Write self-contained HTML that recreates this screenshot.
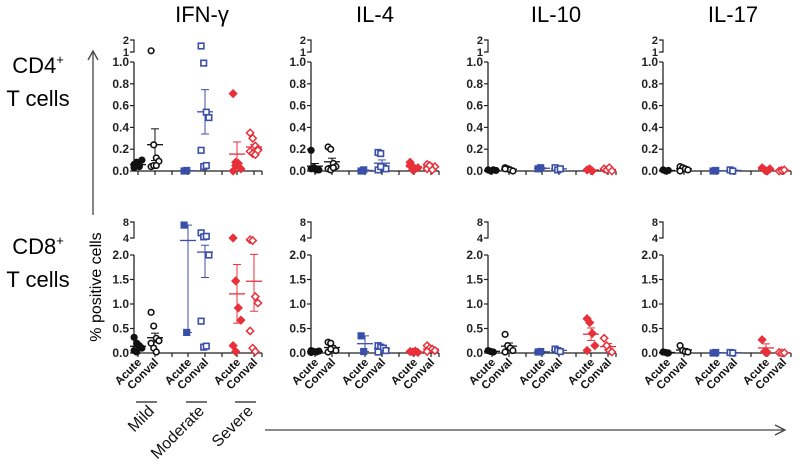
<!DOCTYPE html>
<html><head><meta charset="utf-8"><style>
html,body{margin:0;padding:0;background:#fff}
svg{display:block;font-family:"Liberation Sans",sans-serif}
</style></head><body>
<svg id="chart" width="800" height="465" viewBox="0 0 800 465" xmlns="http://www.w3.org/2000/svg">
<g id="static">
<text x="202" y="22" font-size="22" text-anchor="middle">IFN-γ</text>
<text x="375" y="22" font-size="22" text-anchor="middle">IL-4</text>
<text x="556" y="22" font-size="22" text-anchor="middle">IL-10</text>
<text x="733" y="22" font-size="22" text-anchor="middle">IL-17</text>
<text x="38" y="73" font-size="22" text-anchor="middle">CD4<tspan dy="-9" font-size="13">+</tspan></text>
<text x="38" y="106" font-size="22" text-anchor="middle">T cells</text>
<text x="38" y="254" font-size="22" text-anchor="middle">CD8<tspan dy="-9" font-size="13">+</tspan></text>
<text x="38" y="287" font-size="22" text-anchor="middle">T cells</text>
<g>
<line x1="93" y1="52" x2="93" y2="215" stroke="#444" stroke-width="1.3"/>
<polyline points="88,60 93,51 98,60" fill="none" stroke="#444" stroke-width="1.3"/>
</g>
<text transform="translate(101,287) rotate(-90)" font-size="16" text-anchor="middle">% positive cells</text>
<g>
<line x1="265" y1="430" x2="784" y2="430" stroke="#444" stroke-width="1.3"/>
<polyline points="775,425 785,430 775,435" fill="none" stroke="#444" stroke-width="1.3"/>
</g>
</g>
<g id="panels"></g>
</svg>
<script>
var cytokines = ["IFN-γ","IL-4","IL-10","IL-17"];
var groups = ["Mild Acute","Mild Conval","Moderate Acute","Moderate Conval","Severe Acute","Severe Conval"];
var severities = ["Mild","Moderate","Severe"];
var topTicks = [0,0.2,0.4,0.6,0.8,1.0];
var topTickLabels = ["0.0","0.2","0.4","0.6","0.8","1.0"];
var topBreakTicks = [1,2];
var botTicks = [0,0.5,1.0,1.5,2.0];
var botTickLabels = ["0.0","0.5","1.0","1.5","2.0"];
var botBreakTicks = [4,8];

var cd4IFN = [[0.03,0.05,0.04,0.1,0.06,0.08,0.05],[1.1,0.24,0.12,0.09,0.04,0.05,0.05],[0.0,0.005],[1.5,0.99,0.54,0.49,0.19,0.04,0.05],[0.71,0.08,0.07,0.02,0.0,0.05],[0.35,0.30,0.23,0.2,0.18,0.16,0.15,0.19]];
var cd4IL4 = [[0.19,0.03,0.02,0.01,0.02,0.03,0.01],[0.22,0.2,0.07,0.04,0.02,0.01,0.03],[0.0,0.01],[0.17,0.16,0.03,0.02,0.01,0.04],[0.08,0.04,0.02,0.03,0.05,0.01],[0.06,0.05,0.03,0.04,0.02,0.05,0.01]];
var cd4IL10 = [[0.01,0.0,0.01,0.005],[0.03,0.02,0.01,0.0,0.02],[0.02,0.03],[0.03,0.01,0.02],[0.01,0.02,0.0],[0.02,0.01,0.03,0.0]];
var cd4IL17 = [[0.01,0.0,0.005],[0.04,0.03,0.02,0.01,0.0],[0.0,0.005],[0.01,0.0],[0.03,0.01,0.0,0.02],[0.0,0.005,0.01]];
var cd8IFN = [[0.32,0.2,0.15,0.1,0.05,0.02,0.12],[0.83,0.55,0.3,0.25,0.2,0.1,0.02,0.25],[7,0.42],[5,4.2,4.3,2.0,0.65,0.12,0.14],[4.0,1.47,0.92,0.67,0.15,0.03],[3.8,3.7,1.15,1.02,0.45,0.1,0.03]];
var cd8IL4 = [[0.05,0.03,0.02,0.04,0.01],[0.22,0.2,0.1,0.05,0.02,0.08],[0.35,0.03],[0.15,0.12,0.1,0.05,0.02],[0.03,0.02,0.04,0.01],[0.15,0.1,0.08,0.05,0.03]];
var cd8IL10 = [[0.05,0.03,0.02],[0.38,0.15,0.1,0.05,0.02],[0.02,0.03],[0.08,0.05,0.03],[0.7,0.62,0.4,0.15,0.05],[0.3,0.15,0.05,0.02]];
var cd8IL17 = [[0.02,0.01,0.0],[0.15,0.05,0.03,0.02],[0.0,0.01],[0.01,0.0],[0.27,0.03,0.01],[0.01,0.0,0.005]];

var cd4Data = [cd4IFN,cd4IL4,cd4IL10,cd4IL17];
var cd8Data = [cd8IFN,cd8IL4,cd8IL10,cd8IL17];

var NS="http://www.w3.org/2000/svg";
var root=document.getElementById('panels');
var axisX=[134,311,488,663];
var groupOff=[4,21,54,71,103,120];
var divOff=[38,88];
var panelW=128;
var colors=["#111","#111","#3a4fa8","#3a4fa8","#e8303a","#e8303a"];
function mk(tag,attrs,parent){var e=document.createElementNS(NS,tag);for(var k in attrs)e.setAttribute(k,attrs[k]);(parent||root).appendChild(e);return e;}
function yTop(v){ if(v<=1) return 171-v*109; if(v<1.02) return 62; return 52-Math.min(v-1,1.2)*12; }
function yTopBreak(v){ return 52-(v-1)*12; }
function yBot2(v){ if(v<=2) return 353-v*49; if(v<4) return 255-(v-2)/2*17; return 238-(Math.log(v/4)/Math.log(2))*16; }
function yBotBreak(v){ return 238-(Math.log(v/4)/Math.log(2))*16; }
function meanSem(a){var m=0;a.forEach(function(v){m+=v});m/=a.length;var s=0;a.forEach(function(v){s+=(v-m)*(v-m)});var sd=a.length>1?Math.sqrt(s/(a.length-1)):0;return [m,sd/Math.sqrt(a.length)];}
function marker(g,x,y,gi){
  var c=colors[gi],filled=gi%2===0,sev=Math.floor(gi/2),e;
  var fill=filled?c:"#fff";
  if(sev===0) e=mk('circle',{cx:x,cy:y,r:2.8,fill:fill,stroke:c,'stroke-width':1.6},g);
  else if(sev===1) e=mk('rect',{x:x-2.8,y:y-2.8,width:5.6,height:5.6,fill:fill,stroke:c,'stroke-width':1.6},g);
  else e=mk('polygon',{points:(x)+','+(y-3.6)+' '+(x+3.6)+','+y+' '+(x)+','+(y+3.6)+' '+(x-3.6)+','+y,fill:fill,stroke:c,'stroke-width':1.5},g);
  
  
}
function drawPanel(ci,row){
  var ax=axisX[ci];
  var top=row===0;
  var yf=top?yTop:yBot2;
  var yb=top?yTopBreak:yBotBreak;
  var y0=yf(0), yMax=top?yf(1):yf(2);
  var data=top?cd4Data[ci]:cd8Data[ci];
  var g=mk('g',{});
  
  
  mk('line',{x1:ax,y1:y0,x2:ax,y2:yMax,stroke:'#222','stroke-width':1.3},g);
  mk('line',{x1:ax,y1:y0,x2:ax+panelW,y2:y0,stroke:'#222','stroke-width':1.3},g);
  var ticks=top?topTicks:botTicks, labs=top?topTickLabels:botTickLabels;
  ticks.forEach(function(t,i){var y=yf(t);mk('line',{x1:ax-4,y1:y,x2:ax,y2:y,stroke:'#222','stroke-width':1.2},g);
    var tx=mk('text',{x:ax-5,y:y+4,'font-size':12,'font-weight':'bold','text-anchor':'end',fill:'#222'},g);tx.textContent=labs[i];
    
    });
  var bt=top?topBreakTicks:botBreakTicks;
  var b1=yb(bt[0]),b2=yb(bt[1]);
  mk('polyline',{points:(ax-4)+','+b2+' '+ax+','+b2+' '+ax+','+b1+' '+(ax-4)+','+b1,fill:'none',stroke:'#222','stroke-width':1.2},g);
  bt.forEach(function(t){var tx=mk('text',{x:ax-5,y:yb(t)+4,'font-size':11,'font-weight':'bold','text-anchor':'end',fill:'#222'},g);tx.textContent=String(t);
    
    });
  groupOff.concat(divOff).concat([panelW]).forEach(function(o){mk('line',{x1:ax+o,y1:y0,x2:ax+o,y2:y0+4,stroke:'#222','stroke-width':1.2},g);});
  data.forEach(function(vals,gi){
    var gx=ax+groupOff[gi], c=colors[gi];
    var ms=meanSem(vals), m=ms[0], se=ms[1];
    var ym=yf(m), yl=yf(Math.max(0,m-se)), yh=yf(m+se);
    var eg=mk('g',{},g);
    
    
    mk('line',{x1:gx,y1:yl,x2:gx,y2:yh,stroke:c,'stroke-width':1},eg);
    mk('line',{x1:gx-4,y1:yl,x2:gx+4,y2:yl,stroke:c,'stroke-width':1},eg);
    mk('line',{x1:gx-4,y1:yh,x2:gx+4,y2:yh,stroke:c,'stroke-width':1},eg);
    mk('line',{x1:gx-8,y1:ym,x2:gx+8,y2:ym,stroke:c,'stroke-width':1.3},eg);
    vals.forEach(function(v,i){var dx=((i%4)-1.5)*2.6; marker(g,gx+dx,yf(v),gi);});
  });
  if(!top){
    groups.forEach(function(name,gi){var gx=ax+groupOff[gi];
      var tx=mk('text',{transform:'translate('+(gx+4)+','+(y0+10)+') rotate(-45)','font-size':11.5,'font-weight':'bold','text-anchor':'end',fill:'#111'},g);
      tx.textContent=gi%2===0?'Acute':'Conval';
      
      });
    if(ci===0){
      severities.forEach(function(s,si){var x1=ax+groupOff[si*2]-2, x2=ax+groupOff[si*2+1]+2;
        var ln=mk('line',{x1:x1,y1:402,x2:x2,y2:402,stroke:'#222','stroke-width':1.3},g);
        
        
        var tx=mk('text',{transform:'translate('+(x2-2)+','+412+') rotate(-45)','font-size':16,'text-anchor':'end',fill:'#111'},g);
        tx.textContent=s;
        
        });
    }
  }
}
for(var ci=0;ci<4;ci++){drawPanel(ci,0);drawPanel(ci,1);}
</script>
</body></html>
